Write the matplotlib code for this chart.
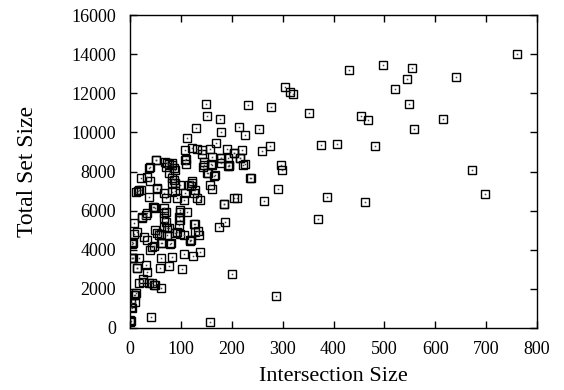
import matplotlib
matplotlib.use("Agg")
import matplotlib.pyplot as plt

# intersection size vs total set size
inter = [
    760, 497, 555, 430, 545, 640, 520, 305, 321, 315,
    548, 352, 455, 468, 615, 558, 376, 407, 482, 296,
    299, 672, 290, 387, 462, 697, 369, 286, 275, 260,
    150, 232, 278, 152, 177, 130, 214, 253, 179, 226,
    112, 170, 122, 132, 141, 157, 109, 190, 220, 204,
    51, 109, 161, 179, 217, 145, 72, 83, 194, 223,
    40, 37, 70, 86, 111, 145, 161, 194, 151, 166,
    236, 21, 34, 39, 86, 83, 122, 119, 18, 11,
    54, 158, 161, 67, 70, 89, 93, 109, 106, 125,
    132, 138, 37, 204, 210, 184, 47, 50, 70, 67,
    99, 112, 31, 24, 8, 67, 70, 96, 99, 96,
    125, 174, 187, 14, 50, 53, 60, 57, 73, 73,
    93, 99, 106, 128, 135, 27, 34, 4, 119, 16,
    22, 53, 82, 89, 82, 76, 98, 115, 121, 128,
    46, 33, 23, 98, 66, 66, 76, 89, 118, 134,
    127, 43, 40, 63, 79, 4, 47, 60, 80, 117,
    4, 18, 61, 83, 107, 123, 137, 14, 31, 33,
    59, 76, 102, 200, 18, 26, 37, 50, 60, 11,
    8, 9, 3, 1, 0, 42, 157, 5, 7, 14,
    25, 44, 48, 238, 264, 185, 167, 153, 142, 205,
    216, 178, 160, 192, 110, 52, 144, 179, 193, 226,
    69, 76, 82, 89, 2, 1, 6, 3, 0, 10,
]
total = [
    14000, 13450, 13300, 13200, 12750, 12850, 12200, 12340, 11960, 12050,
    11450, 10970, 10850, 10650, 10700, 10150, 9360, 9390, 9300, 8330,
    8080, 8100, 7090, 6680, 6450, 6850, 5560, 1640, 9300, 9050,
    11450, 11380, 11320, 10840, 10680, 10210, 10300, 10190, 10000, 9870,
    9730, 9480, 9190, 9150, 9100, 9170, 9100, 9130, 9100, 8930,
    8590, 8590, 8760, 8670, 8670, 8500, 8450, 8420, 8300, 8330,
    8220, 8200, 8250, 8170, 8400, 8350, 8350, 8350, 7910, 7790,
    7650, 7650, 7740, 7520, 7570, 7400, 7520, 7280, 7060, 6970,
    7140, 7310, 7110, 6890, 6630, 6980, 6630, 6890, 6540, 6890,
    6630, 6540, 6680, 6630, 6660, 6320, 6200, 6120, 5950, 6120,
    6030, 5950, 5780, 5690, 5350, 5610, 5430, 5690, 5520, 5280,
    5300, 5180, 5400, 4920, 4990, 4870, 4800, 4740, 5100, 4750,
    4920, 4830, 4750, 4920, 4750, 4670, 4500, 4410, 4500, 7020,
    7060, 7090, 6970, 7400, 7650, 7910, 7310, 7310, 7400, 7060,
    6200, 5860, 5610, 5950, 5860, 5180, 5100, 4840, 4500, 4970,
    5320, 4160, 3990, 4360, 4280, 4290, 4190, 4350, 4350, 4450,
    3600, 3560, 3560, 3610, 3770, 3700, 3870, 3050, 3220, 2850,
    3050, 3170, 3020, 2740, 2280, 2370, 2320, 2200, 2060, 1770,
    1690, 1350, 1000, 370, 300, 580, 320, 3560, 4800, 3050,
    2510, 2280, 2210, 7680, 6510, 6320, 7820, 7940, 8900, 8930,
    8710, 8450, 8400, 8700, 8620, 8590, 8250, 8670, 8300, 8370,
    8500, 8400, 8350, 8100, 1090, 1280, 4330, 3600, 400, 1690,
]

plt.rcParams["font.family"] = ["Liberation Serif", "DejaVu Serif"]

fig = plt.figure(figsize=(5.64, 3.90), dpi=100)
ax = fig.add_axes([130 / 564, 62 / 390, 407 / 564, 313 / 390])

ax.plot(inter, total, linestyle="none", marker="s", markersize=5.2,
        markerfacecolor="none", markeredgecolor="black", markeredgewidth=1.0)
ax.plot(inter, total, linestyle="none", marker="s", markersize=1.1,
        markerfacecolor="#444444", markeredgecolor="none")

ax.set_xlim(0, 800)
ax.set_ylim(0, 16000)
ax.set_xticks(range(0, 801, 100))
ax.set_yticks(range(0, 16001, 2000))
ax.tick_params(direction="in", length=5, width=1, top=True, right=True,
               labelsize=13)
ax.tick_params(axis="x", pad=9)
ax.tick_params(axis="y", pad=10)
for s in ax.spines.values():
    s.set_linewidth(1.0)

ax.set_xlabel("Intersection Size", fontsize=16, labelpad=7)
ax.set_ylabel("Total Set Size", fontsize=17, labelpad=24)

fig.savefig("out.png", dpi=100)
